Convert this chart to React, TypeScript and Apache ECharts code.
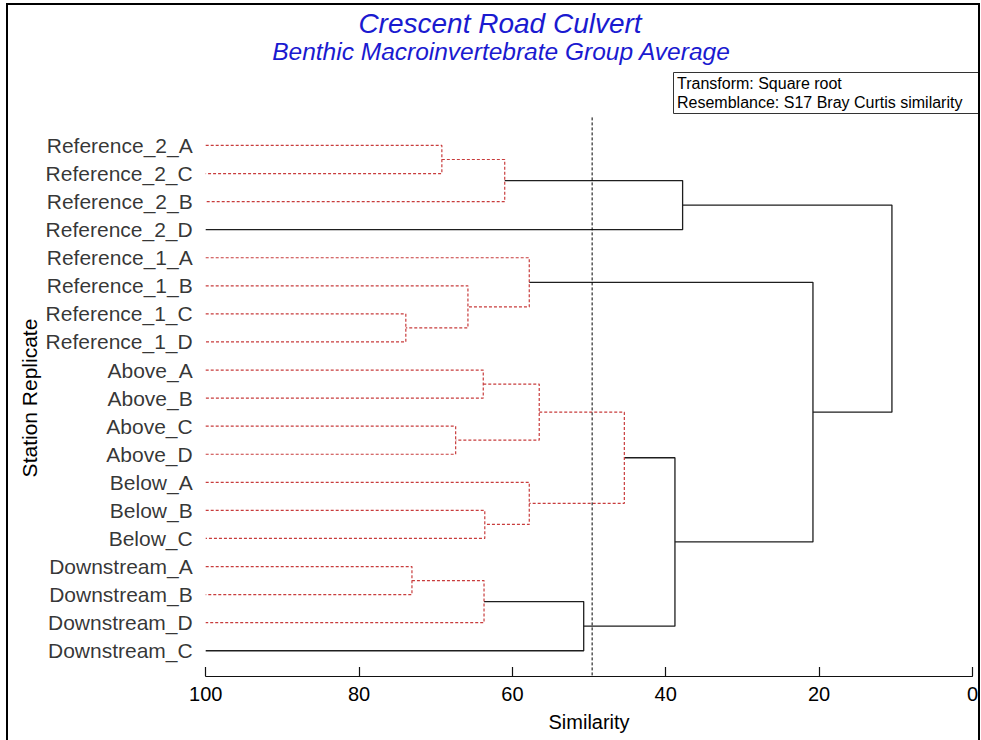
import React, { useEffect, useRef } from 'react';
import * as echarts from 'echarts';

// Leaves (top to bottom)
const leaves = [
  'Reference_2_A', 'Reference_2_C', 'Reference_2_B', 'Reference_2_D',
  'Reference_1_A', 'Reference_1_B', 'Reference_1_C', 'Reference_1_D',
  'Above_A', 'Above_B', 'Above_C', 'Above_D',
  'Below_A', 'Below_B', 'Below_C',
  'Downstream_A', 'Downstream_B', 'Downstream_D', 'Downstream_C',
];

// Merges: node index 19 + k joins mergeA[k] and mergeB[k] at mergeSim[k]
const mergeA = [0, 19, 20, 6, 5, 4, 8, 10, 25, 13, 12, 27, 15, 31, 32, 30, 24, 21];
const mergeB = [1, 2, 3, 7, 22, 23, 9, 11, 26, 14, 28, 29, 16, 17, 18, 33, 34, 35];
const mergeSim = [69.2, 61.0, 37.8, 73.9, 65.8, 57.8, 63.8, 67.4, 56.5, 63.6, 57.8, 45.4, 73.1, 63.7, 50.7, 38.8, 20.8, 10.5];
const mergeGroup = ['red', 'red', 'black', 'red', 'red', 'red', 'red', 'red', 'red', 'red', 'red', 'red', 'red', 'red', 'black', 'black', 'black', 'black'];

const cutSimilarity = 49.6;
const xTickInterval = 20;

const titleText = 'Crescent Road Culvert';
const subtitleText = 'Benthic Macroinvertebrate Group Average';
const infoLines = ['Transform: Square root', 'Resemblance: S17 Bray Curtis similarity'];

const FONT = '"Liberation Sans", Arial, sans-serif';
const RED = '#c83c3c';
const BLACK = '#1e1e1e';

export default function App() {
  const ref = useRef<HTMLDivElement>(null);

  useEffect(() => {
    if (!ref.current) return;
    const chart = echarts.init(ref.current, undefined, { renderer: 'svg' });

    const h: number[] = leaves.map(() => 100);
    const y: number[] = leaves.map((_, i) => i);
    const series: any[] = [];

    mergeSim.forEach((s, k) => {
      const a = mergeA[k];
      const b = mergeB[k];
      const node = leaves.length + k;
      h[node] = s;
      y[node] = (y[a] + y[b]) / 2;
      const isRed = mergeGroup[k] === 'red';
      series.push({
        type: 'line',
        symbol: 'none',
        silent: true,
        data: [[h[a], y[a]], [s, y[a]], [s, y[b]], [h[b], y[b]]],
        lineStyle: {
          color: isRed ? RED : BLACK,
          width: isRed ? 1.2 : 1.3,
          type: isRed ? [3, 2] : 'solid',
        },
        z: isRed ? 3 : 2,
      });
    });

    series.push({
      type: 'line',
      symbol: 'none',
      silent: true,
      data: [[cutSimilarity, -1], [cutSimilarity, 18.9]],
      lineStyle: { color: '#000', width: 1, type: [3, 2] },
      z: 4,
    });

    series.push({
      type: 'scatter',
      symbolSize: 0,
      silent: true,
      data: leaves.map((_, i) => [100, i]),
      label: {
        show: true,
        position: 'left',
        distance: 13,
        formatter: (p: any) => leaves[p.dataIndex],
        color: '#000',
        fontSize: 21,
        fontFamily: FONT,
      },
    });

    chart.setOption({
      animation: false,
      backgroundColor: '#fff',
      grid: { left: 205.7, right: 7, top: 117.4, height: 558.6 },
      xAxis: {
        type: 'value',
        min: 0,
        max: 100,
        interval: xTickInterval,
        inverse: true,
        position: 'bottom',
        name: 'Similarity',
        nameLocation: 'middle',
        nameGap: 36,
        nameTextStyle: { color: '#000', fontSize: 20, fontFamily: FONT },
        axisLine: { show: true, onZero: false, lineStyle: { color: '#111', width: 1.2 } },
        axisTick: { show: true, inside: true, length: 9, lineStyle: { color: '#111', width: 1.2 } },
        axisLabel: { color: '#000', fontSize: 20, fontFamily: FONT, margin: 8 },
        splitLine: { show: false },
      },
      yAxis: {
        type: 'value',
        min: -1,
        max: 18.9,
        inverse: true,
        show: false,
      },
      series,
      graphic: [
        {
          type: 'rect',
          shape: { x: 673.5, y: 72.5, width: 305.5, height: 41 },
          style: { fill: '#fff', stroke: '#333', lineWidth: 1 },
          silent: true,
        },
        {
          type: 'rect',
          shape: { x: 7, y: 4, width: 972, height: 760 },
          style: { fill: 'none', stroke: '#000', lineWidth: 2 },
          silent: true,
        },
        {
          type: 'text',
          x: 500,
          y: 23,
          style: {
            text: titleText,
            fill: '#1a1ad0',
            font: `italic 28px ${FONT}`,
            align: 'center',
            verticalAlign: 'middle',
          },
        },
        {
          type: 'text',
          x: 501,
          y: 51,
          style: {
            text: subtitleText,
            fill: '#1a1ad0',
            font: `italic 24.5px ${FONT}`,
            align: 'center',
            verticalAlign: 'middle',
          },
        },
        {
          type: 'text',
          x: 677,
          y: 83,
          style: { text: infoLines[0], fill: '#000', font: `16px ${FONT}`, verticalAlign: 'middle' },
        },
        {
          type: 'text',
          x: 677,
          y: 102,
          style: { text: infoLines[1], fill: '#000', font: `16px ${FONT}`, verticalAlign: 'middle' },
        },
        {
          type: 'text',
          x: 29,
          y: 398,
          rotation: Math.PI / 2,
          style: {
            text: 'Station Replicate',
            fill: '#000',
            font: `21px ${FONT}`,
            align: 'center',
            verticalAlign: 'middle',
          },
        },
      ],
    });

    return () => chart.dispose();
  }, []);

  return (
    <div
      ref={ref}
      style={{ position: 'fixed', left: 0, top: 0, width: 981, height: 740 }}
    />
  );
}
